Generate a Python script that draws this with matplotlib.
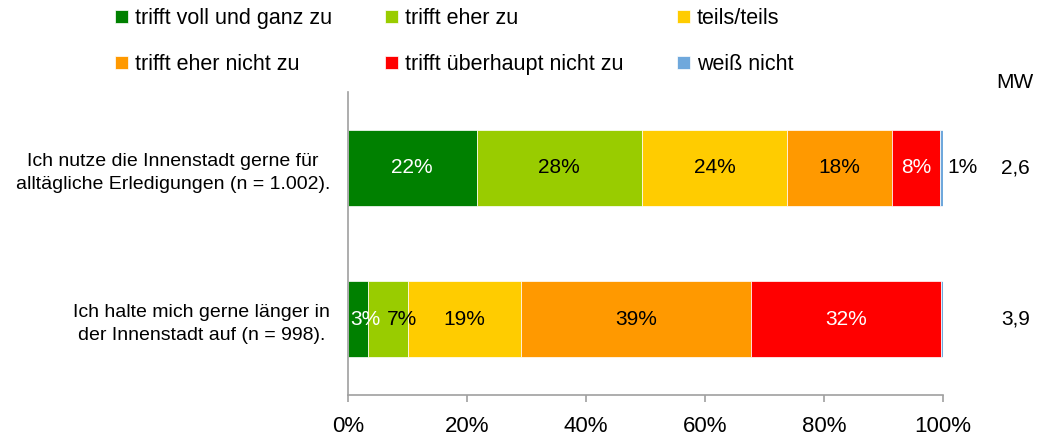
import numpy as np
import matplotlib.pyplot as plt

plt.rcParams['font.family'] = ['Liberation Sans', 'DejaVu Sans']
plt.rcParams['font.size'] = 15

categories = ["Ich nutze die Innenstadt gerne für\nalltägliche Erledigungen (n = 1.002).",
              "Ich halte mich gerne länger in\nder Innenstadt auf (n = 998)."]
answers = ["trifft voll und ganz zu", "trifft eher zu", "teils/teils",
           "trifft eher nicht zu", "trifft überhaupt nicht zu", "weiß nicht"]

# shares in percent, one list per answer (row 1, row 2)
voll = [21.6, 3.4]
eher = [27.8, 6.6]
teils = [24.4, 19.1]
eher_nicht = [17.6, 38.6]
ueberhaupt_nicht = [8.1, 32.0]
weiss_nicht = [0.6, 0.3]
mean_values = ["2,6", "3,9"]

series = [voll, eher, teils, eher_nicht, ueberhaupt_nicht, weiss_nicht]
colors = ["#008000", "#99CC00", "#FFCC00", "#FF9900", "#FF0000", "#6FA8DC"]
text_colors = ["white", "black", "black", "black", "white", "black"]
# nudge for labels that don't fit into narrow segments (row, series) -> x shift
nudge = {(1, 0): 1.2, (1, 1): 2.4}

fig = plt.figure(figsize=(10.4, 4.44), dpi=100)
ax = fig.add_axes([348 / 1040, 49 / 444, 595 / 1040, 303 / 444])

y = np.arange(len(categories))
left = np.zeros(len(categories))
bars = []
for si, (vals, col, tcol, name) in enumerate(zip(series, colors, text_colors, answers)):
    vals = np.array(vals)
    b = ax.barh(y, vals, left=left, height=0.5, color=col,
                edgecolor="white", linewidth=0.5, label=name)
    bars.append(b)
    for yi, v, l in zip(y, vals, left):
        if round(v) < 1:
            continue
        if name == "weiß nicht":
            ax.text(l + v + 3.2, yi, f"{v:.0f}%", ha="center", va="center",
                    color="black", clip_on=False)
        else:
            x = l + v / 2 + nudge.get((yi, si), 0)
            ax.text(x, yi, f"{v:.0f}%", ha="center", va="center", color=tcol)
    left += vals

# mean values column
for yi, mw in zip(y, mean_values):
    ax.text(112.2, yi, mw, ha="center", va="center", clip_on=False)
ax.text(112.0, -0.56, "MW", ha="center", va="center", clip_on=False)

ax.set_xlim(0, 100)
ax.set_ylim(1.5, -0.5)
ax.set_xticks(np.arange(0, 101, 20))
ax.set_xticklabels([f"{t}%" for t in range(0, 101, 20)], fontsize=16)
ax.set_yticks(y)
ax.set_yticklabels(categories, fontsize=14, linespacing=1.45)
for lbl in ax.get_yticklabels():
    lbl.set_multialignment("center")

for s in ["top", "right"]:
    ax.spines[s].set_visible(False)
for s in ["left", "bottom"]:
    ax.spines[s].set_color("#A0A0A0")
    ax.spines[s].set_linewidth(1.2)
ax.tick_params(axis="x", length=5, width=1.2, color="#A0A0A0", pad=10)
ax.tick_params(axis="y", length=0, pad=13)

order = [0, 3, 1, 4, 2, 5]
fig.legend([bars[i] for i in order], [answers[i] for i in order], ncol=3,
           loc="upper left", bbox_to_anchor=(115 / 1040, 0.982), frameon=False,
           fontsize=15.5, handlelength=0.6, handleheight=0.6, handletextpad=0.33,
           columnspacing=2.47, labelspacing=1.17, borderpad=0, borderaxespad=0)

fig.savefig("out.png", dpi=100)
